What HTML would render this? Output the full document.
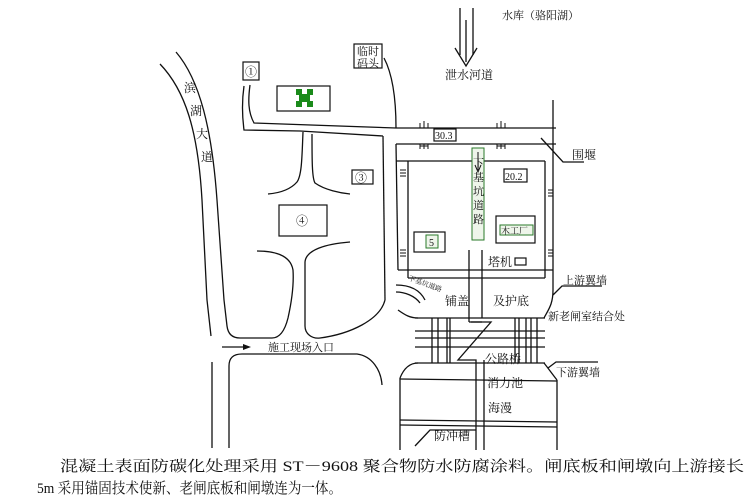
<!DOCTYPE html>
<html><head><meta charset="utf-8"><style>
html,body{margin:0;padding:0;background:#fff;}
svg{display:block;}
text{font-family:"Liberation Serif","Noto Serif CJK SC","Noto Sans CJK SC",serif;fill:#111;}
</style></head><body>
<svg width="750" height="497" viewBox="0 0 750 497" xmlns="http://www.w3.org/2000/svg">
<g fill="none" stroke="#111" stroke-width="1.3">
<!-- top inflow -->
<line x1="460" y1="8" x2="460" y2="55"/><line x1="473" y1="8" x2="473" y2="55"/>
<path d="M455 48 L466 66 L477 48" />
<line x1="466" y1="20" x2="466" y2="62"/>
<!-- 滨湖大道 -->
<path d="M160 64 C185 90 198 130 202 200 L207 300 L211 336"/>
<line x1="212" y1="362" x2="212" y2="448"/>
<path d="M176 52 C200 80 212 130 217 200 L224 300 L227 326 C228 334 232 338 240 338 L272 338 C280 338 285 330 288 318 C292 300 294 285 293 270 C291 258 280 251 257 251"/>
<!-- second block -->
<path d="M350 242 C325 244 306 250 305 262 L305 326 C305 334 312 339 320 338 C350 334 380 320 385 300"/>
<!-- bottom block -->
<path d="M229 448 L229 366 C229 358 233 354 242 354 L357 354 C372 356 381 370 382 385"/>
<!-- ① road -->
<path d="M244 86 C242 100 242 115 244 130 L300 131 L383 136"/>
<path d="M250 85 C248 100 248 112 254 123 L396 128"/>
<!-- 临时码头 line -->
<path d="M384 58 C393 75 396 100 396 128"/>
<!-- vertical left edge -->
<line x1="383" y1="136" x2="385" y2="300"/>
<line x1="396" y1="144" x2="398" y2="270"/>
<line x1="408" y1="161" x2="408" y2="278"/>
<!-- ③④ roads -->
<path d="M303 132 C302 155 302 175 297 182 C290 190 280 193 268 194"/>
<path d="M312 134 C312 160 312 178 315 183 C325 190 340 193 350 194"/>
<!-- main road 30.3 -->
<line x1="396" y1="128" x2="556" y2="128"/>
<line x1="396" y1="144" x2="556" y2="144"/>
<line x1="396" y1="161" x2="545" y2="161"/>
<line x1="553" y1="100" x2="553" y2="290"/>
<line x1="545" y1="161" x2="545" y2="278"/>
<!-- 围堰 leader -->
<path d="M541 138 L563 162 L584 162"/>
<!-- inner area -->
<line x1="398" y1="270" x2="553" y2="270"/>
<line x1="408" y1="278" x2="545" y2="278"/>
<line x1="469" y1="250" x2="469" y2="322"/>
<line x1="482" y1="250" x2="482" y2="318"/>
<!-- 下基坑道路 curve -->
<path d="M396 285 C410 285 420 290 425 300"/>
<path d="M396 292 C405 292 415 296 420 303"/>
<!-- lower flare left -->
<path d="M398 310 C405 315 410 318 418 318"/>
<path d="M418 363 C410 363 404 368 400 378"/>
<!-- lower flare right -->
<path d="M553 290 C553 305 548 310 544 318"/>
<path d="M544 363 C548 368 553 375 557 380"/>
<!-- bands -->
<line x1="415" y1="318" x2="545" y2="318"/>
<line x1="415" y1="331" x2="545" y2="331"/>
<line x1="415" y1="338" x2="545" y2="338"/>
<line x1="415" y1="347" x2="545" y2="347"/>
<line x1="415" y1="363" x2="545" y2="363"/>
<line x1="432" y1="318" x2="432" y2="363"/><line x1="438" y1="318" x2="438" y2="363"/><line x1="447" y1="318" x2="447" y2="363"/><line x1="450" y1="318" x2="450" y2="363"/>
<line x1="515" y1="318" x2="515" y2="363"/><line x1="519" y1="318" x2="519" y2="363"/><line x1="526" y1="318" x2="526" y2="363"/><line x1="531" y1="318" x2="531" y2="363"/><line x1="537" y1="318" x2="537" y2="363"/>
<!-- zigzag -->
<path d="M469 322 L491 322 L458 360 L476 360 L476 450"/>
<path d="M482 322 L471 322"/>
<line x1="484" y1="360" x2="484" y2="450"/>
<!-- lower basin -->
<line x1="400" y1="378" x2="400" y2="450"/>
<line x1="557" y1="380" x2="557" y2="450"/>
<line x1="400" y1="379" x2="557" y2="381"/>
<line x1="400" y1="420" x2="557" y2="422"/>
<line x1="400" y1="425" x2="557" y2="427"/>
<path d="M415 446 L430 430 L476 430"/>
<!-- right labels leaders -->
<path d="M553 295 L562 286 L602 286"/>
<path d="M548 368 L556 362 L598 362"/>
</g>
<!-- arrow entrance -->
<line x1="222" y1="347" x2="243" y2="347" stroke="#111" stroke-width="1.2"/>
<path d="M243 344 L251 347 L243 350 Z" fill="#111"/>
<!-- boxes -->
<g fill="#fff" stroke="#111" stroke-width="1.2">
<rect x="243" y="62" width="16" height="18"/>
<rect x="277" y="86" width="53" height="25"/>
<rect x="354" y="44" width="28" height="24"/>
<rect x="352" y="170" width="21" height="14"/>
<rect x="279" y="205" width="48" height="31"/>
<rect x="434" y="129" width="22" height="12"/>
<rect x="504" y="169" width="23" height="13"/>
<rect x="496" y="216" width="39" height="27"/>
<rect x="414" y="232" width="31" height="20"/>
<rect x="515" y="258" width="11" height="7"/>
</g>
<rect x="472" y="148" width="12" height="92" fill="#eef5ea" stroke="#2a7a2a" stroke-width="1"/>
<rect x="500" y="225" width="33" height="10" fill="#eef5ea" stroke="#2a7a2a" stroke-width="1"/>
<rect x="426" y="235" width="12" height="13" fill="#eef5ea" stroke="#2a7a2a" stroke-width="1"/>
<path d="M478 152 L478 170 M475 165 L478 172 L481 165" stroke="#111" fill="none"/>
<!-- green icon -->
<g fill="#1a8a1a"><rect x="296" y="89" width="6" height="6"/><rect x="307" y="89" width="6" height="6"/><rect x="296" y="101" width="6" height="6"/><rect x="307" y="101" width="6" height="6"/><rect x="299" y="94" width="11" height="8"/></g>
<!-- ticks -->
<g stroke="#111" stroke-width="1" fill="none">
<path d="M420 128 v-5 M424 128 v-7 M428 128 v-5 M497 128 v-5 M501 128 v-7 M505 128 v-5"/>
<path d="M420 144 v5 M424 144 v5 M428 144 v5 M420 146 h8 M497 144 v5 M501 144 v5 M505 144 v5 M497 146 h8"/>
<path d="M400 170 h6 M400 173 h6 M400 176 h6 M400 250 h6 M400 253 h6 M400 256 h6 M548 190 h5 M548 193 h5 M548 196 h5 M548 250 h5 M548 253 h5 M548 256 h5"/>
</g>
<!-- text -->
<g font-size="11">
<text x="502" y="19">水库（骆阳湖）</text>
<text x="445" y="79" font-size="12">泄水河道</text>
<text x="245" y="76" font-size="12">①</text>
<text x="357" y="55">临时</text><text x="357" y="67">码头</text>
<text x="355" y="182" font-size="12">③</text>
<text x="296" y="225" font-size="12">④</text>
<text x="435" y="139" font-size="10">30.3</text>
<text x="505" y="180" font-size="10">20.2</text>
<text x="429" y="246" font-size="10">5</text>
<text x="501" y="234" font-size="9">木工厂</text>
<text x="488" y="266" font-size="12">塔机</text>
<text x="572" y="159" font-size="12">围堰</text>
<text x="563" y="284" font-size="11">上游翼墙</text>
<text x="548" y="320" font-size="11">新老闸室结合处</text>
<text x="556" y="376" font-size="11">下游翼墙</text>
<text x="445" y="305" font-size="12">铺盖</text>
<text x="493" y="305" font-size="12">及护底</text>
<text x="485" y="363" font-size="12">公路桥</text>
<text x="487" y="387" font-size="12">消力池</text>
<text x="488" y="412" font-size="12">海漫</text>
<text x="434" y="440" font-size="12">防冲槽</text>
<text x="268" y="351" font-size="11">施工现场入口</text>
<text x="408" y="280" font-size="7" transform="rotate(20 408 280)">下基坑道路</text>
</g>
<g font-size="12">
<text x="184" y="92">滨</text><text x="190" y="115">湖</text><text x="196" y="138">大</text><text x="201" y="161">道</text>
</g>
<g font-size="11">
<text x="473" y="167">下</text><text x="473" y="181">基</text><text x="473" y="195">坑</text><text x="473" y="209">道</text><text x="473" y="223">路</text>
</g>
<text x="60" y="471" font-size="15" textLength="684" lengthAdjust="spacingAndGlyphs">混凝土表面防碳化处理采用 ST－9608 聚合物防水防腐涂料。闸底板和闸墩向上游接长</text>
<text x="37" y="493" font-size="15" textLength="305" lengthAdjust="spacingAndGlyphs">5m 采用锚固技术使新、老闸底板和闸墩连为一体。</text>
</svg>
</body></html>
